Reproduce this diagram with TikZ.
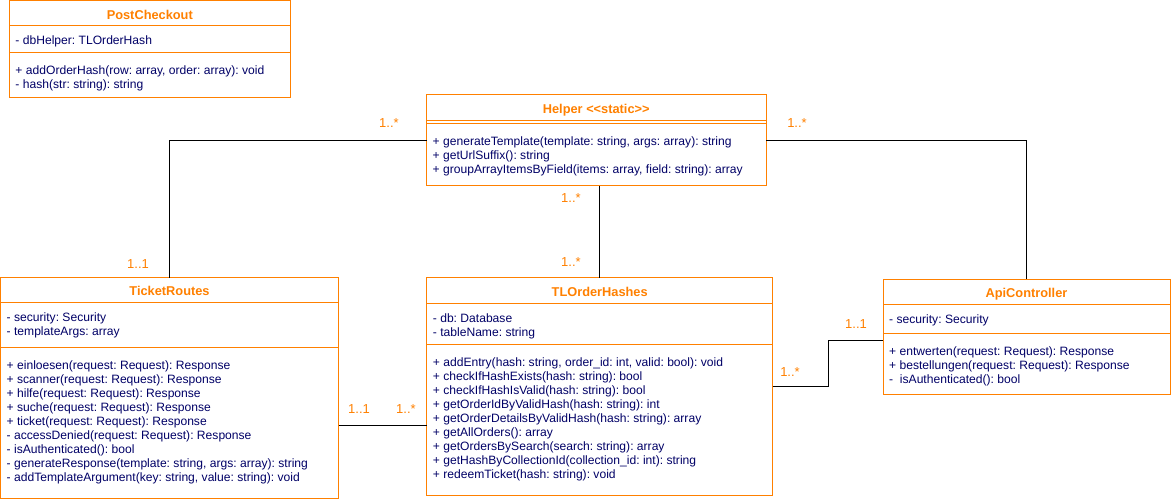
\documentclass[tikz,border=0pt]{standalone}
\usepackage{fontspec}
\setmainfont{Liberation Sans}
\usepackage{xcolor}
\usetikzlibrary{positioning}
\definecolor{umlorange}{HTML}{FF8000}
\definecolor{umlnavy}{HTML}{000066}
\frenchspacing

\begin{document}
\begin{tikzpicture}[
    x=1pt, y=-1pt,
    header/.style={rectangle, draw=umlorange, line width=1pt, outer sep=0pt, inner sep=0pt, anchor=north west, text=umlorange, font=\fontsize{12.8}{14}\selectfont\bfseries, text height=11.2pt, text depth=0pt},
    compartment/.style={rectangle, draw=umlorange, line width=1pt, outer sep=0pt, inner sep=0pt},
    members/.style={inner sep=0pt, text=umlnavy, font=\fontsize{12.1}{14}\selectfont, align=left},
    assoc/.style={draw=black, line width=1pt},
    mult/.style={text=umlorange, font=\fontsize{13}{14}\selectfont, inner sep=0pt}
]
\useasboundingbox (0,0) rectangle (1171,502);

% PostCheckout
\node[header, minimum width=281pt, minimum height=25pt] (postcheckout) at (9.3,1) {PostCheckout};
\node[compartment, below=0pt of postcheckout, minimum width=281pt, minimum height=27pt] (postcheckout_attr) {};
\node[compartment, below=0pt of postcheckout_attr, minimum width=281pt, minimum height=45pt] (postcheckout_ops) {};
\node[members, below right=8.3pt and 6pt of postcheckout_attr.north west] (postcheckout_attr_text) {\strut- dbHelper: TLOrderHash};
\node[members, below right=11.8pt and 6pt of postcheckout_ops.north west] (postcheckout_ops_text) {\strut+ addOrderHash(row: array, order: array): void\\- hash(str: string): string};

% Helper
\node[header, minimum width=339.5pt, minimum height=26pt] (helper) at (426.5,94.5) {Helper <\kern0pt<static>\kern0pt>};
\node[compartment, below=0pt of helper, minimum width=339.5pt, minimum height=3.5pt] (helper_attr) {};
\node[compartment, below=0pt of helper_attr, minimum width=339.5pt, minimum height=62pt] (helper_ops) {};
\node[members, below right=11.8pt and 6pt of helper_ops.north west] (helper_ops_text) {\strut+ generateTemplate(template: string, args: array): string\\+ getUrlSuffix(): string\\+ groupArrayItemsByField(items: array, field: string): array};

% TicketRoutes
\node[header, minimum width=338pt, minimum height=25.3pt] (ticketroutes) at (0.5,277.7) {TicketRoutes};
\node[compartment, below=0pt of ticketroutes, minimum width=338pt, minimum height=45pt] (ticketroutes_attr) {};
\node[compartment, below=0pt of ticketroutes_attr, minimum width=338pt, minimum height=151pt] (ticketroutes_ops) {};
\node[members, below right=8.3pt and 6pt of ticketroutes_attr.north west] (ticketroutes_attr_text) {\strut- security: Security\\- templateArgs: array};
\node[members, below right=11.8pt and 6pt of ticketroutes_ops.north west] (ticketroutes_ops_text) {\strut+ einloesen(request: Request): Response\\+ scanner(request: Request): Response\\+ hilfe(request: Request): Response\\+ suche(request: Request): Response\\+ ticket(request: Request): Response\\- accessDenied(request: Request): Response\\- isAuthenticated(): bool\\- generateResponse(template: string, args: array): string\\- addTemplateArgument(key: string, value: string): void};

% TLOrderHashes
\node[header, minimum width=346pt, minimum height=26pt] (tlorderhashes) at (426.7,278) {TLOrderHashes};
\node[compartment, below=0pt of tlorderhashes, minimum width=346pt, minimum height=41pt] (tlorderhashes_attr) {};
\node[compartment, below=0pt of tlorderhashes_attr, minimum width=346pt, minimum height=151pt] (tlorderhashes_ops) {};
\node[members, below right=8.3pt and 6pt of tlorderhashes_attr.north west] (tlorderhashes_attr_text) {\strut- db: Database\\- tableName: string};
\node[members, below right=11.8pt and 6pt of tlorderhashes_ops.north west] (tlorderhashes_ops_text) {\strut+ addEntry(hash: string, order\_id: int, valid: bool): void\\+ checkIfHashExists(hash: string): bool\\+ checkIfHashIsValid(hash: string): bool\\+ getOrderIdByValidHash(hash: string): int\\+ getOrderDetailsByValidHash(hash: string): array\\+ getAllOrders(): array\\+ getOrdersBySearch(search: string): array\\+ getHashByCollectionId(collection\_id: int): string\\+ redeemTicket(hash: string): void};

% ApiController
\node[header, minimum width=287pt, minimum height=25.7pt] (apicontroller) at (883,279.3) {ApiController};
\node[compartment, below=0pt of apicontroller, minimum width=287pt, minimum height=29pt] (apicontroller_attr) {};
\node[compartment, below=0pt of apicontroller_attr, minimum width=287pt, minimum height=61pt] (apicontroller_ops) {};
\node[members, below right=8.3pt and 6pt of apicontroller_attr.north west] (apicontroller_attr_text) {\strut- security: Security};
\node[members, below right=11.8pt and 6pt of apicontroller_ops.north west] (apicontroller_ops_text) {\strut+ entwerten(request: Request): Response\\+ bestellungen(request: Request): Response\\-\ \ isAuthenticated(): bool};

% Associations
\coordinate (tl_api_bend) at (828.3,340.3);
\draw[assoc] (helper_ops.west |- 0,140.3) -| (ticketroutes.north);
\draw[assoc] (helper_ops.east |- 0,140.3) -| (apicontroller.north);
\draw[assoc] (tlorderhashes.north |- helper_ops.south) -- (tlorderhashes.north);
\draw[assoc] (ticketroutes_ops.east |- 0,425.3) -- (tlorderhashes_ops.west |- 0,425.3);
\draw[assoc] (tlorderhashes_ops.east |- 0,386.7) -| (tl_api_bend) -- (apicontroller_ops.west |- tl_api_bend);

% Multiplicities
\node[mult] (helper_tr_mult) at (389,122.7) {1..*};
\node[mult] (tr_helper_mult) at (138,264) {1..1};
\node[mult] (helper_api_mult) at (797,122.7) {1..*};
\node[mult] (helper_tl_mult) at (571,198.3) {1..*};
\node[mult] (tl_helper_mult) at (571,262.3) {1..*};
\node[mult] (tr_tl_mult) at (359,409) {1..1};
\node[mult] (tl_tr_mult) at (406,409) {1..*};
\node[mult] (tl_api_mult) at (790,371.7) {1..*};
\node[mult] (api_tl_mult) at (856,324) {1..1};

\end{tikzpicture}
\end{document}
